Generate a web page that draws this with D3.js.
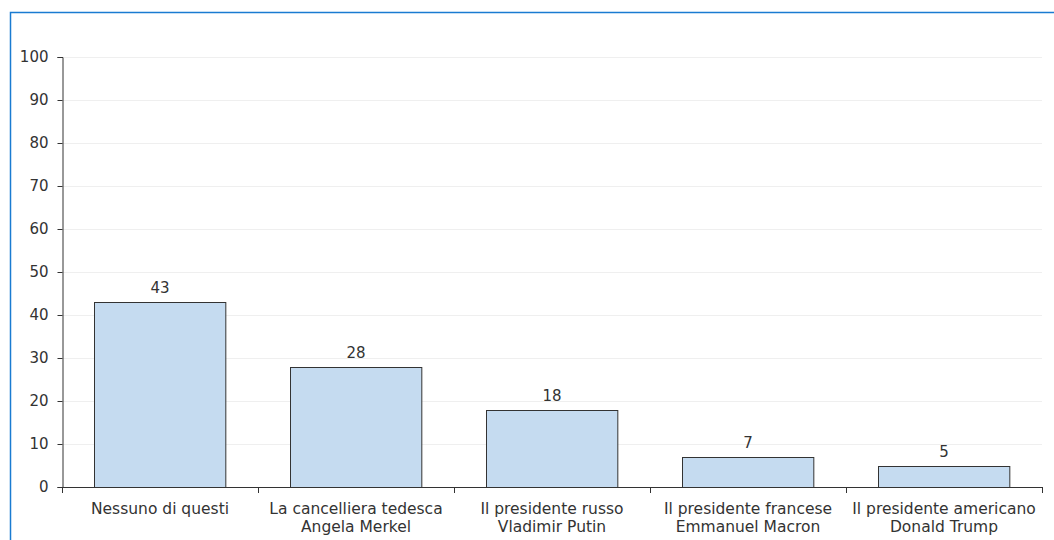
<!DOCTYPE html>
<html><head><meta charset="utf-8">
<script src="https://cdn.jsdelivr.net/npm/d3@7"></script>
<style>
html,body{margin:0;padding:0;background:#fff;}
svg{display:block;}
text{font-family:"DejaVu Sans","Noto Sans",sans-serif;fill:#333;}
</style></head>
<body>
<script>
const categories = [
  ["Nessuno di questi"],
  ["La cancelliera tedesca","Angela Merkel"],
  ["Il presidente russo","Vladimir Putin"],
  ["Il presidente francese","Emmanuel Macron"],
  ["Il presidente americano","Donald Trump"]
];
const values = [43, 28, 18, 7, 5];
const yTicks = [0,10,20,30,40,50,60,70,80,90,100];

(function(){
const W = 1054, H = 540;
const FONT = '"DejaVu Sans","Noto Sans",sans-serif';
const svg = d3.select("body").append("svg").attr("width", W).attr("height", H);

// frame
svg.append("path").attr("d", `M10.5,${H} V12.5 H${W}`).attr("fill","none")
  .attr("stroke","#1a7bd1").attr("stroke-width",1.5);

const mL = 62, mR = 1042, mT = 57, mB = 487;
const x = d3.scaleBand().domain(d3.range(categories.length)).range([mL, mR])
  .paddingInner(0.33).paddingOuter(0.165);
const y = d3.scaleLinear().domain([0,100]).range([mB, mT]);

// gridlines
svg.append("g").selectAll("line").data(yTicks.filter(d=>d>0)).join("line")
  .attr("x1", mL).attr("x2", mR)
  .attr("y1", d=>Math.round(y(d))+0.5).attr("y2", d=>Math.round(y(d))+0.5)
  .attr("stroke","#efefef").attr("stroke-width",1);

// bars
svg.append("g").selectAll("rect").data(values).join("rect")
  .attr("x", (d,i)=>Math.round(x(i))+0.5)
  .attr("y", d=>Math.round(y(d))+0.5)
  .attr("width", x.bandwidth())
  .attr("height", d=>mB - Math.round(y(d)))
  .attr("fill","#c5dbf0").attr("stroke","#333").attr("stroke-width",1);

// value labels
svg.append("g").selectAll("text").data(values).join("text")
  .attr("x", (d,i)=>x(i)+x.bandwidth()/2)
  .attr("y", d=>y(d)-9)
  .attr("text-anchor","middle").attr("font-size",15).text(d=>d);

// y axis
const yAxis = svg.append("g").attr("transform",`translate(${mL+0.5},0)`)
  .call(d3.axisLeft(y).tickValues(yTicks).tickSize(5).tickPadding(9));
yAxis.select(".domain").attr("stroke","#333");
yAxis.selectAll(".tick line").attr("stroke","#333");
yAxis.selectAll("text").attr("font-size",15).attr("fill","#333")
  .style("font-family",FONT);

// x axis
const bounds = d3.range(categories.length+1).map(i=> mL + i*x.step());
const xg = svg.append("g");
xg.append("line").attr("x1",mL).attr("x2",mR+0.5)
  .attr("y1",mB+0.5).attr("y2",mB+0.5).attr("stroke","#333");
xg.selectAll("line.tk").data(bounds).join("line").attr("class","tk")
  .attr("x1",d=>Math.round(d)+0.5).attr("x2",d=>Math.round(d)+0.5)
  .attr("y1",mB).attr("y2",mB+6).attr("stroke","#333");
const lbl = xg.selectAll("text").data(categories).join("text")
  .attr("x",(d,i)=>x(i)+x.bandwidth()/2)
  .attr("y",mB+27)
  .attr("text-anchor","middle").attr("font-size",15.5);
lbl.selectAll("tspan").data(d=>d).join("tspan")
  .attr("x", function(){return this.parentNode.getAttribute("x");})
  .attr("dy",(d,i)=>i===0?0:18).text(d=>d);
})();
</script>
</body></html>
